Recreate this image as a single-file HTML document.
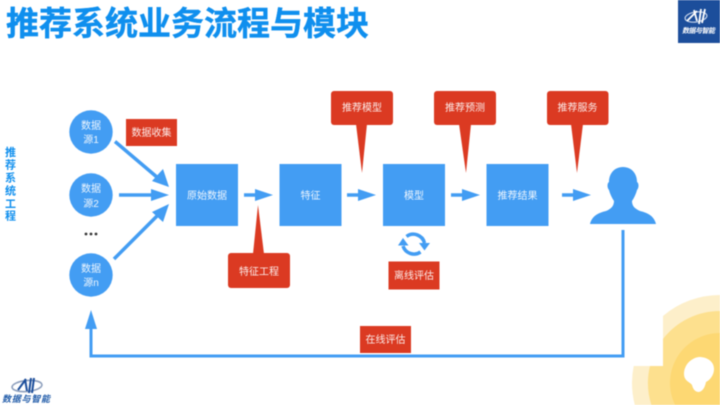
<!DOCTYPE html>
<html lang="zh">
<head>
<meta charset="utf-8">
<title>推荐系统业务流程与模块</title>
<style>
html,body{margin:0;padding:0;background:#fff;width:720px;height:405px;overflow:hidden}
svg{display:block;filter:blur(.4px)}
text{font-family:"Liberation Sans","Noto Sans CJK SC",sans-serif}
.l{fill:#fff;font-size:10px;text-anchor:middle;fill-opacity:.9}
</style>
</head>
<body>
<svg width="720" height="405" viewBox="0 0 720 405" xmlns="http://www.w3.org/2000/svg">
<rect width="720" height="405" fill="#fff"/>

<!-- bottom right decoration -->
<path d="M720 295A88 88 0 0 0 663 316V366H633.700A88 88 0 0 0 634.800 405H720Z" fill="#fdefca"/>
<path d="M720 311A72 72 0 0 0 663 339V366H650A72 72 0 0 0 651.400 405H720Z" fill="#fde08e"/>
<path d="M720 333A50 50 0 0 0 675.100 405H720Z" fill="#fdd873"/>
<path d="M684 374C684 365 691 358 699 357C708 357 714 362 714 369C714 375 710 380 706 382C705 387 703 391 699 392C695 392 693 389 692 385C690 382 684 381 684 374Z" fill="#fff"/>

<!-- title -->
<text x="6" y="35" font-size="33" font-weight="700" fill="#0f8fee" stroke="#0f8fee" stroke-width=".4">推荐系统业务流程与模块</text>

<!-- top right logo -->
<rect x="678" y="0" width="42" height="43" fill="#1c4e9b"/>
<ellipse cx="696" cy="17" rx="11" ry="5" fill="none" stroke="#c5d3ea" stroke-width="1.2" transform="rotate(-8 696 17)"/>
<path d="M687 21L697 11M694 10L697 21M701 9L699 24M705 9L702 23" stroke="#fff" stroke-width="1.8" fill="none"/>
<text x="682" y="33" font-size="7" font-weight="700" font-style="italic" fill="#fff" textLength="33">数据与智能</text>

<!-- side label -->
<g font-size="11" font-weight="700" fill="#0f8fee" text-anchor="middle">
<text x="10.5" y="156">推</text>
<text x="10.5" y="168.500">荐</text>
<text x="10.5" y="181.500">系</text>
<text x="10.5" y="194.500">统</text>
<text x="10.5" y="207.500">工</text>
<text x="10.5" y="219.500">程</text>
</g>

<!-- circles -->
<g fill="#439df3">
<circle cx="91" cy="132" r="21.7"/>
<circle cx="91" cy="195" r="21.7"/>
<circle cx="91" cy="275" r="21.7"/>
</g>
<text class="l" x="91" y="129">数据</text>
<text class="l" x="91" y="143">源1</text>
<text class="l" x="91" y="192">数据</text>
<text class="l" x="91" y="207">源2</text>
<text class="l" x="91" y="272">数据</text>
<text class="l" x="91" y="286">源n</text>
<g fill="#333">
<circle cx="86" cy="234" r="1.4"/>
<circle cx="91" cy="234" r="1.4"/>
<circle cx="96" cy="234" r="1.4"/>
</g>

<!-- boxes -->
<g fill="#439df3">
<rect x="176" y="164" width="62" height="62"/>
<rect x="279.500" y="164" width="62" height="62"/>
<rect x="383" y="164" width="62" height="62"/>
<rect x="486.500" y="164" width="62" height="62"/>
</g>
<text class="l" x="207" y="199">原始数据</text>
<text class="l" x="310.500" y="199">特征</text>
<text class="l" x="414" y="199">模型</text>
<text class="l" x="517.500" y="199">推荐结果</text>

<!-- arrows -->
<g stroke="#439df3" stroke-width="3.500" fill="none">
<path d="M115 141.500L158 178"/>
<path d="M119 195H155"/>
<path d="M114 259L158 215"/>
<path d="M244 195H258"/>
<path d="M347 195H361"/>
<path d="M451 195H465"/>
<path d="M562 195H576"/>
</g>
<path d="M91 327V356H623V230" stroke="#439df3" stroke-width="3" fill="none"/>
<g fill="#439df3">
<path d="M169 187L152 181L163 169Z"/>
<path d="M169 195L151 189V201Z"/>
<path d="M169 204L152 212L163 222Z"/>
<path d="M273 195L255 189V201Z"/>
<path d="M376 195L358 189V201Z"/>
<path d="M480 195L462 189V201Z"/>
<path d="M591 195L573 189V201Z"/>
<path d="M91 310L85 329H97Z"/>
</g>

<!-- person -->
<path fill="#439df3" d="M623 167C632 167 637 174 637 182C639 183 639 188 637 190C636 194 634 198 632 201C632 206 635 209 640 211C648 213 654 216 656 224H590C592 216 598 213 606 211C611 209 614 206 614 201C612 198 610 194 609 190C607 188 607 183 609 182C609 174 614 167 623 167Z"/>

<!-- refresh icon -->
<g fill="none" stroke="#439df3" stroke-width="3.500">
<path d="M406.500 236.500A11.500 11.500 0 0 1 424.500 243"/>
<path d="M420.500 252A11.500 11.500 0 0 1 403 246"/>
</g>
<g fill="#439df3">
<path d="M419 243H430L424.500 250.500Z"/>
<path d="M398 245.500H408.500L403 238Z"/>
</g>

<!-- red callouts -->
<g fill="#db3a22">
<rect x="126" y="119" width="51" height="27"/>
<rect x="388.500" y="261.500" width="51" height="28"/>
<rect x="360" y="326" width="51" height="27"/>
<rect x="331" y="91" width="62" height="34" rx="3"/>
<path d="M356 124H367L362 173Z"/>
<rect x="434" y="91" width="62" height="34" rx="3"/>
<path d="M459 124H471L466 173Z"/>
<rect x="547" y="91" width="61.500" height="34" rx="3"/>
<path d="M571 124H583L577 173Z"/>
<rect x="228" y="253" width="62" height="35" rx="3"/>
<path d="M253 254H264L258 205Z"/>
</g>
<text class="l" x="151.500" y="136">数据收集</text>
<text class="l" x="362" y="111">推荐模型</text>
<text class="l" x="465" y="111">推荐预测</text>
<text class="l" x="577.500" y="111">推荐服务</text>
<text class="l" x="259" y="275">特征工程</text>
<text class="l" x="414" y="279">离线评估</text>
<text class="l" x="385.500" y="343">在线评估</text>

<!-- bottom left logo -->
<ellipse cx="27" cy="386" rx="15" ry="5.500" fill="none" stroke="#8d9fbd" stroke-width="1.600" transform="rotate(-5 27 386)"/>
<path d="M18 390L26 379M25 379L27 391M31 378L29 393M34 378L32 393" stroke="#1c4e9b" stroke-width="2" fill="none"/>
<text x="2" y="402" font-size="9" font-weight="700" font-style="italic" fill="#1f5aa8" textLength="48">数据与智能</text>
</svg>
</body>
</html>
